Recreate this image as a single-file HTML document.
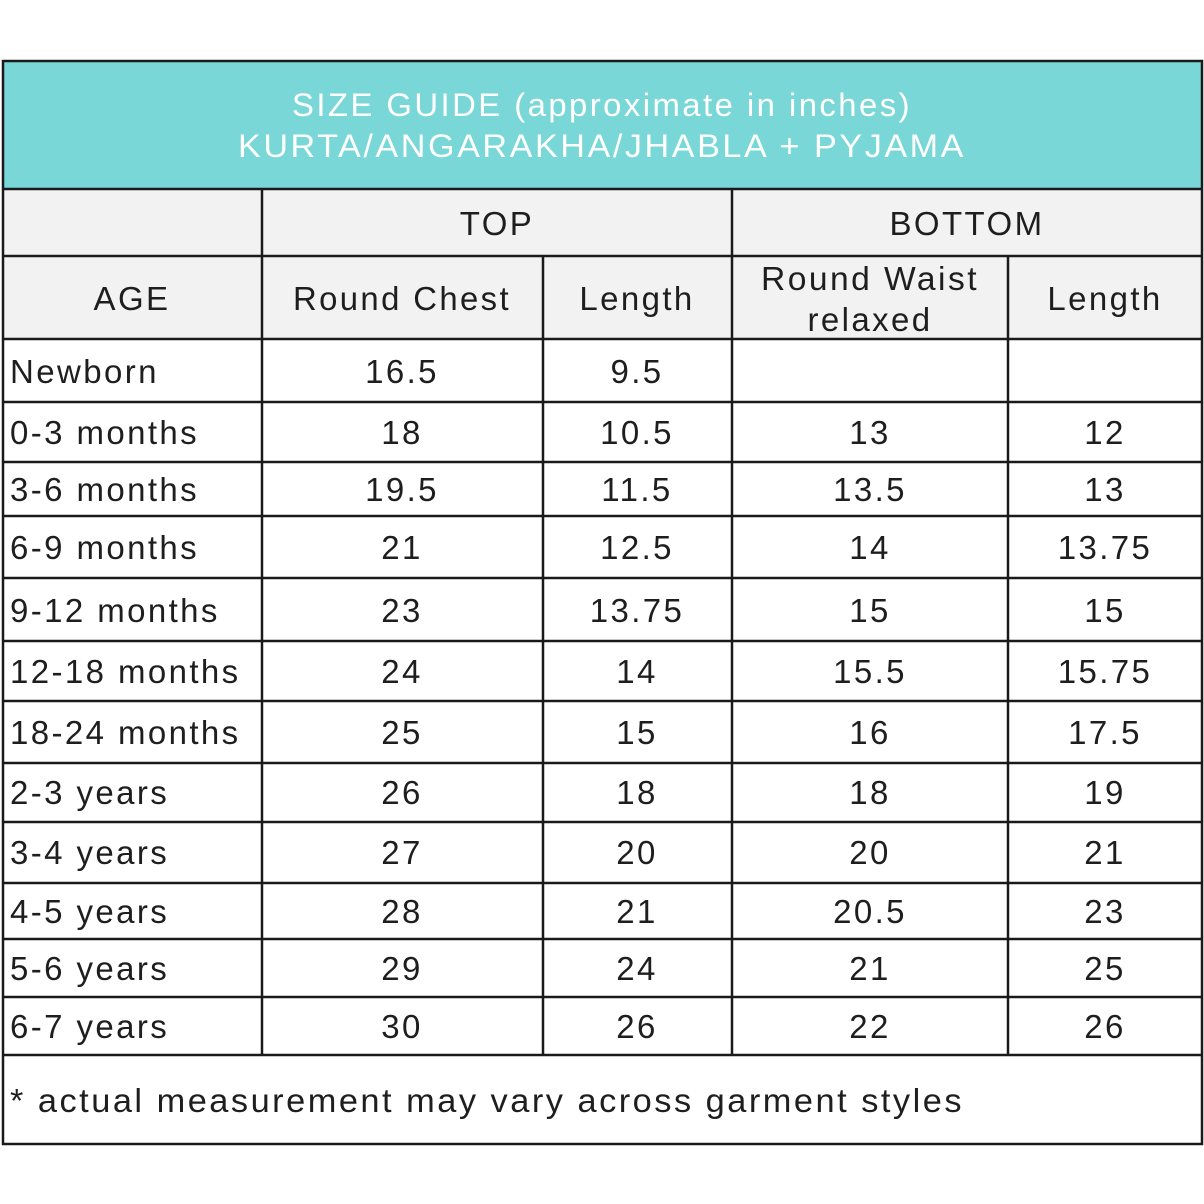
<!DOCTYPE html>
<html><head><meta charset="utf-8"><style>
html,body{margin:0;padding:0;background:#fff;}
svg{display:block;}
text{font-family:"Liberation Sans",sans-serif;fill:#1e1e1e;font-size:33px;letter-spacing:2.4px;}
.c{text-anchor:middle;}
</style></head><body>
<svg width="1204" height="1204" viewBox="0 0 1204 1204">
<rect x="0" y="0" width="1204" height="1204" fill="#fff"/>
<rect x="3" y="61" width="1199" height="128" fill="#79d7d7"/>
<rect x="3" y="189" width="1199" height="150" fill="#f2f2f2"/>
<text x="602" y="116" class="c" style="fill:#fff;font-size:32px" textLength="620" lengthAdjust="spacingAndGlyphs">SIZE GUIDE (approximate in inches)</text>
<text x="602" y="157" class="c" style="fill:#fff;font-size:32px" textLength="728" lengthAdjust="spacingAndGlyphs">KURTA/ANGARAKHA/JHABLA + PYJAMA</text>
<g stroke="#1a1a1a" stroke-width="2.5" fill="none">
<rect x="3" y="61" width="1199" height="1083"/>
<line x1="3" y1="189" x2="1202" y2="189"/>
<line x1="3" y1="256" x2="1202" y2="256"/>
<line x1="3" y1="339" x2="1202" y2="339"/>
<line x1="3" y1="402" x2="1202" y2="402"/>
<line x1="3" y1="462" x2="1202" y2="462"/>
<line x1="3" y1="516" x2="1202" y2="516"/>
<line x1="3" y1="578" x2="1202" y2="578"/>
<line x1="3" y1="641" x2="1202" y2="641"/>
<line x1="3" y1="701" x2="1202" y2="701"/>
<line x1="3" y1="763" x2="1202" y2="763"/>
<line x1="3" y1="822" x2="1202" y2="822"/>
<line x1="3" y1="883" x2="1202" y2="883"/>
<line x1="3" y1="939" x2="1202" y2="939"/>
<line x1="3" y1="997" x2="1202" y2="997"/>
<line x1="3" y1="1055" x2="1202" y2="1055"/>
<line x1="262" y1="189" x2="262" y2="1055"/>
<line x1="732" y1="189" x2="732" y2="1055"/>
<line x1="543" y1="256" x2="543" y2="1055"/>
<line x1="1008" y1="256" x2="1008" y2="1055"/>
</g>
<text x="497" y="235" class="c">TOP</text>
<text x="967" y="235" class="c">BOTTOM</text>
<text x="132" y="310" class="c">AGE</text>
<text x="402" y="310" class="c" textLength="218" lengthAdjust="spacingAndGlyphs">Round Chest</text>
<text x="637" y="310" class="c">Length</text>
<text x="870" y="290" class="c" textLength="218" lengthAdjust="spacingAndGlyphs">Round Waist</text>
<text x="870" y="331" class="c">relaxed</text>
<text x="1105" y="310" class="c">Length</text>
<g>
<text x="10" y="383">Newborn</text><text x="402" y="383" class="c">16.5</text><text x="637" y="383" class="c">9.5</text>
<text x="10" y="444">0-3 months</text><text x="402" y="444" class="c">18</text><text x="637" y="444" class="c">10.5</text><text x="870" y="444" class="c">13</text><text x="1105" y="444" class="c">12</text>
<text x="10" y="501">3-6 months</text><text x="402" y="501" class="c">19.5</text><text x="637" y="501" class="c">11.5</text><text x="870" y="501" class="c">13.5</text><text x="1105" y="501" class="c">13</text>
<text x="10" y="559">6-9 months</text><text x="402" y="559" class="c">21</text><text x="637" y="559" class="c">12.5</text><text x="870" y="559" class="c">14</text><text x="1105" y="559" class="c">13.75</text>
<text x="10" y="622">9-12 months</text><text x="402" y="622" class="c">23</text><text x="637" y="622" class="c">13.75</text><text x="870" y="622" class="c">15</text><text x="1105" y="622" class="c">15</text>
<text x="10" y="683">12-18 months</text><text x="402" y="683" class="c">24</text><text x="637" y="683" class="c">14</text><text x="870" y="683" class="c">15.5</text><text x="1105" y="683" class="c">15.75</text>
<text x="10" y="744">18-24 months</text><text x="402" y="744" class="c">25</text><text x="637" y="744" class="c">15</text><text x="870" y="744" class="c">16</text><text x="1105" y="744" class="c">17.5</text>
<text x="10" y="804">2-3 years</text><text x="402" y="804" class="c">26</text><text x="637" y="804" class="c">18</text><text x="870" y="804" class="c">18</text><text x="1105" y="804" class="c">19</text>
<text x="10" y="864">3-4 years</text><text x="402" y="864" class="c">27</text><text x="637" y="864" class="c">20</text><text x="870" y="864" class="c">20</text><text x="1105" y="864" class="c">21</text>
<text x="10" y="923">4-5 years</text><text x="402" y="923" class="c">28</text><text x="637" y="923" class="c">21</text><text x="870" y="923" class="c">20.5</text><text x="1105" y="923" class="c">23</text>
<text x="10" y="980">5-6 years</text><text x="402" y="980" class="c">29</text><text x="637" y="980" class="c">24</text><text x="870" y="980" class="c">21</text><text x="1105" y="980" class="c">25</text>
<text x="10" y="1038">6-7 years</text><text x="402" y="1038" class="c">30</text><text x="637" y="1038" class="c">26</text><text x="870" y="1038" class="c">22</text><text x="1105" y="1038" class="c">26</text>
</g>
<text x="10" y="1112" textLength="954" lengthAdjust="spacingAndGlyphs">* actual measurement may vary across garment styles</text>
</svg>
</body></html>
